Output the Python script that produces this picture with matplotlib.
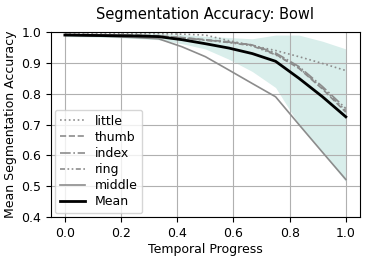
import numpy as np
import matplotlib
matplotlib.use('Agg')
import matplotlib.pyplot as plt

# progresso temporal (13 amostras)
t = [0.0, 0.083, 0.167, 0.25, 0.333, 0.417, 0.5, 0.583, 0.667, 0.75, 0.833, 0.917, 1.0]

little = [0.995, 0.995, 0.995, 0.995, 0.995, 0.993, 0.99, 0.972, 0.956, 0.94, 0.92, 0.898, 0.875]
thumb = [0.992, 0.992, 0.991, 0.99, 0.988, 0.982, 0.975, 0.968, 0.958, 0.928, 0.882, 0.815, 0.74]
index = [0.992, 0.991, 0.99, 0.99, 0.987, 0.981, 0.974, 0.967, 0.958, 0.932, 0.888, 0.823, 0.752]
ring = [0.991, 0.991, 0.99, 0.989, 0.986, 0.98, 0.973, 0.966, 0.955, 0.926, 0.884, 0.818, 0.745]
middle = [0.99, 0.988, 0.985, 0.982, 0.978, 0.952, 0.92, 0.877, 0.833, 0.79, 0.7, 0.61, 0.522]
mean = [0.99, 0.989, 0.988, 0.987, 0.985, 0.975, 0.962, 0.948, 0.93, 0.905, 0.85, 0.79, 0.725]

band_low = [0.985, 0.984, 0.982, 0.979, 0.975, 0.962, 0.945, 0.912, 0.872, 0.82, 0.7, 0.61, 0.515]
band_high = [0.995, 0.995, 0.995, 0.996, 0.996, 0.992, 0.986, 0.982, 0.978, 0.99, 0.99, 0.97, 0.945]

fingers = [('little', little, ':'), ('thumb', thumb, '--'), ('index', index, '-.'),
           ('ring', ring, (0, (3, 1.5, 1, 1.5, 1, 1.5))), ('middle', middle, '-')]

fig = plt.figure(figsize=(3.71, 2.60), dpi=100)
ax = fig.add_axes([0.137, 0.165, 0.833, 0.712])

ax.fill_between(t, band_low, band_high, color='#d9eeeb', lw=0)
for nome, vals, ls in fingers:
    ax.plot(t, vals, ls=ls, color='#8c8c8c', lw=1.2, label=nome)
ax.plot(t, mean, color='black', lw=2, label='Mean')

ax.set_xlim(-0.05, 1.05)
ax.set_ylim(0.4, 1.0)
ax.set_xticks([0.0, 0.2, 0.4, 0.6, 0.8, 1.0])
ax.grid(True, color='#b0b0b0', lw=0.8)
ax.tick_params(labelsize=9)
ax.set_title('Segmentation Accuracy: Bowl', fontsize=10.5, pad=9)
ax.set_xlabel('Temporal Progress', fontsize=9, labelpad=2)
ax.set_ylabel('Mean Segmentation Accuracy', fontsize=9, labelpad=3)
ax.legend(loc='lower left', fontsize=9, handlelength=2.0, labelspacing=0.25,
          borderaxespad=0.3)

fig.savefig('out.png', dpi=100)
